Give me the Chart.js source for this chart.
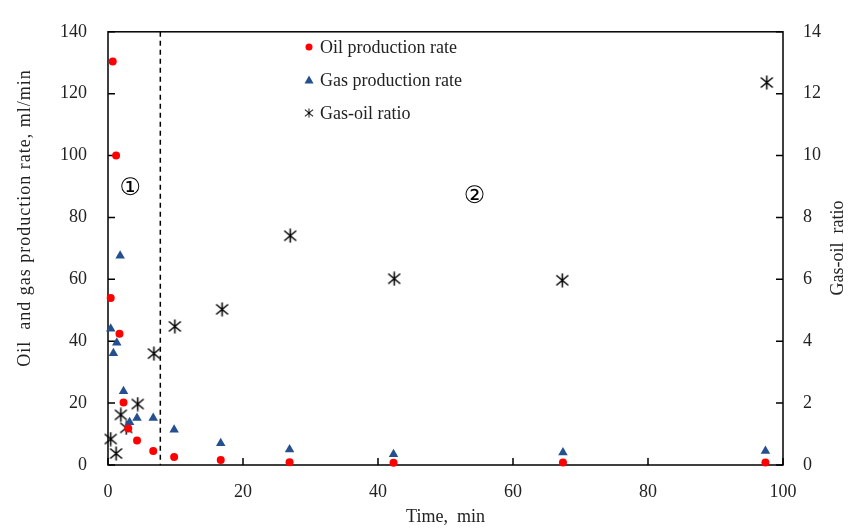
<!DOCTYPE html>
<html lang="en">
<head>
<meta charset="UTF-8">
<title>Oil and gas production rate vs time</title>
<script src="https://cdn.jsdelivr.net/npm/chart.js"></script>
<style>
    html, body { margin: 0; padding: 0; background: #fff; }
    #wrap { width: 861px; height: 529px; position: relative; }
</style>
</head>
<body>
<div id="wrap"><canvas id="myChart"></canvas></div>
<script>
// values
const oilTime = [0.7, 1.2, 0.4, 1.7, 2.3, 3.0, 4.3, 6.7, 9.8, 16.7, 26.9, 42.3, 67.4, 97.4];
const oilRate = [130.4, 100, 54, 42.4, 20.2, 11.8, 7.9, 4.5, 2.6, 1.6, 0.9, 0.7, 0.8, 0.8];
const gasTime = [0.4, 1.3, 0.8, 1.8, 2.3, 3.2, 4.3, 6.7, 9.8, 16.7, 26.9, 42.3, 67.4, 97.4];
const gasRate = [44, 39.5, 36.1, 67.6, 23.8, 13.8, 15.2, 15.2, 11.4, 7.0, 5.0, 3.5, 4.0, 4.5];
const gorTime = [0.4, 1.2, 1.9, 2.7, 4.4, 6.8, 9.9, 16.9, 27.0, 42.4, 67.3, 97.6];
const gorValue = [0.84, 0.37, 1.62, 1.2, 1.97, 3.6, 4.48, 5.03, 7.41, 6.02, 5.97, 12.36];

const seriesNames = ['Oil production rate', 'Gas production rate', 'Gas-oil ratio'];
const leftTitle = 'Oil  and gas production rate, ml/min';
const rightTitle = 'Gas-oil  ratio';
const boundaryTime = 7.75;
const regionNames = ['①', '②'];
const regionTime = [3.3, 54.3];
const regionRate = [89.3, 86.7];

const serif = 'Liberation Serif, Times New Roman, serif';
const textColor = '#222';

function pairs(xs, ys) {
    return xs.map((x, i) => ({ x: x, y: ys[i] }));
}

// six-ray asterisk like the original marker
function makeAsterisk(size) {
    const c = document.createElement('canvas');
    c.width = size; c.height = size;
    const g = c.getContext('2d');
    const m = size / 2;
    g.strokeStyle = '#000';
    g.lineWidth = 1.5;
    g.beginPath();
    g.moveTo(m, 0.5); g.lineTo(m, size - 0.5);
    g.moveTo(1.5, 2.5); g.lineTo(size - 1.5, size - 2.5);
    g.moveTo(size - 1.5, 2.5); g.lineTo(1.5, size - 2.5);
    g.stroke();
    return c;
}
const asterisk = makeAsterisk(15);

const decorations = {
    id: 'decorations',
    beforeDatasetsDraw(chart) {
        const { ctx, chartArea: a, scales } = chart;
        ctx.save();
        ctx.strokeStyle = '#000';
        ctx.lineWidth = 1.5;
        ctx.strokeRect(a.left, a.top, a.right - a.left, a.bottom - a.top);

        // inward tick marks
        const len = 7;
        ctx.beginPath();
        scales.x.ticks.forEach(t => {
            const px = scales.x.getPixelForValue(t.value);
            ctx.moveTo(px, a.bottom); ctx.lineTo(px, a.bottom - len);
        });
        scales.y.ticks.forEach(t => {
            const py = scales.y.getPixelForValue(t.value);
            ctx.moveTo(a.left, py); ctx.lineTo(a.left + len, py);
        });
        scales.y1.ticks.forEach(t => {
            const py = scales.y1.getPixelForValue(t.value);
            ctx.moveTo(a.right, py); ctx.lineTo(a.right - len, py);
        });
        ctx.stroke();

        // dashed boundary between the two stages
        const bx = scales.x.getPixelForValue(boundaryTime);
        ctx.setLineDash([5, 4]);
        ctx.beginPath();
        ctx.moveTo(bx, a.top); ctx.lineTo(bx, a.bottom);
        ctx.stroke();
        ctx.setLineDash([]);

        // stage labels
        ctx.fillStyle = '#000';
        ctx.font = '24px DejaVu Sans';
        ctx.textAlign = 'center';
        ctx.textBaseline = 'middle';
        regionNames.forEach((s, i) => {
            ctx.fillText(s, scales.x.getPixelForValue(regionTime[i]), scales.y.getPixelForValue(regionRate[i]));
        });

        // axis titles, both reading bottom to top
        ctx.font = '18px ' + serif;
        ctx.fillStyle = textColor;
        ctx.save();
        ctx.translate(25, 218);
        ctx.rotate(-Math.PI / 2);
        ctx.letterSpacing = '1px';
        ctx.fillText(leftTitle, 0, 0);
        ctx.restore();
        ctx.save();
        ctx.translate(838, 248);
        ctx.rotate(-Math.PI / 2);
        ctx.fillText(rightTitle, 0, 0);
        ctx.restore();
        ctx.restore();
    },
    afterDraw(chart) {
        const { ctx } = chart;
        ctx.save();
        ctx.font = '18px ' + serif;
        ctx.textBaseline = 'middle';
        ctx.textAlign = 'left';
        const x0 = 309, y0 = 47, step = 33;
        chart.data.datasets.forEach((ds, i) => {
            const y = y0 + i * step;
            if (ds.pointStyle === 'circle') {
                ctx.fillStyle = ds.backgroundColor;
                ctx.beginPath(); ctx.arc(x0, y, 3.5, 0, Math.PI * 2); ctx.fill();
            } else if (ds.pointStyle === 'triangle') {
                ctx.fillStyle = ds.backgroundColor;
                ctx.beginPath();
                ctx.moveTo(x0, y - 4.5); ctx.lineTo(x0 + 4.5, y + 3.5); ctx.lineTo(x0 - 4.5, y + 3.5);
                ctx.closePath(); ctx.fill();
            } else {
                ctx.drawImage(ds.pointStyle, x0 - 5, y - 5, 10, 10);
            }
            ctx.fillStyle = textColor;
            ctx.fillText(ds.label, x0 + 11, y + 1);
        });
        ctx.restore();
    }
};

const tickFont = { family: serif, size: 18 };
const titleFont = { family: serif, size: 18 };

const ctx = document.getElementById('myChart').getContext('2d');
const chart = new Chart(ctx, {
    type: 'scatter',
    data: {
        datasets: [{
            label: seriesNames[0],
            data: pairs(oilTime, oilRate),
            yAxisID: 'y',
            pointStyle: 'circle',
            pointRadius: 4,
            backgroundColor: '#ff0000',
            borderColor: '#ff0000',
            borderWidth: 0,
            clip: false
        }, {
            label: seriesNames[1],
            data: pairs(gasTime, gasRate),
            yAxisID: 'y',
            pointStyle: 'triangle',
            pointRadius: 5.5,
            backgroundColor: '#25508f',
            borderColor: '#25508f',
            borderWidth: 0,
            clip: false
        }, {
            label: seriesNames[2],
            data: pairs(gorTime, gorValue),
            yAxisID: 'y1',
            pointStyle: asterisk,
            backgroundColor: '#000',
            borderColor: '#000',
            clip: false
        }]
    },
    options: {
        responsive: true,
        maintainAspectRatio: false,
        animation: false,
        layout: { padding: { top: 19, left: 0, right: 0, bottom: 0 } },
        plugins: {
            legend: { display: false },
            tooltip: { enabled: false }
        },
        scales: {
            x: {
                type: 'linear',
                position: 'bottom',
                min: 0,
                max: 100,
                ticks: { stepSize: 20, padding: 16, font: tickFont, color: textColor, maxRotation: 0 },
                grid: { display: false, drawTicks: false },
                border: { display: false },
                title: { display: true, text: 'Time,  min', font: titleFont, color: textColor, padding: { top: 0, bottom: 1 } },
                afterFit(s) { s.height = 64; }
            },
            y: {
                position: 'left',
                min: 0,
                max: 140,
                ticks: { stepSize: 20, padding: 21, font: tickFont, color: textColor },
                grid: { display: false, drawTicks: false },
                border: { display: false },
                afterFit(s) { s.width = 108; }
            },
            y1: {
                position: 'right',
                min: 0,
                max: 14,
                ticks: { stepSize: 2, padding: 20, font: tickFont, color: textColor },
                grid: { display: false, drawTicks: false },
                border: { display: false },
                afterFit(s) { s.width = 78; }
            }
        }
    },
    plugins: [decorations]
});
</script>
</body>
</html>
